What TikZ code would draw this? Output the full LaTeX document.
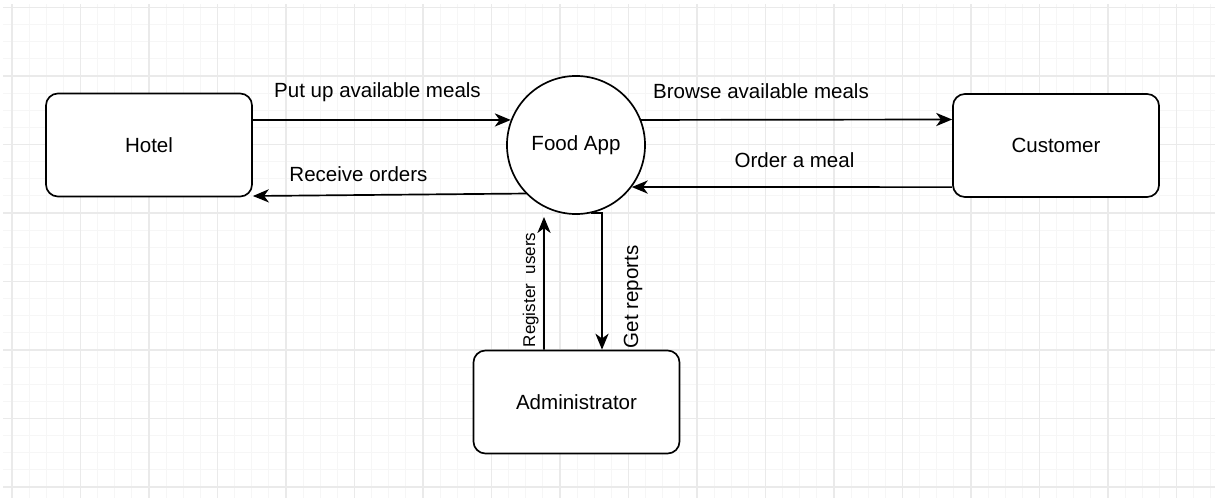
\documentclass[tikz,border=0pt]{standalone}
\usepackage{fontspec}
\setmainfont{Liberation Sans}
\usepackage{xcolor}
\usetikzlibrary{arrows.meta}
\definecolor{gridminor}{HTML}{F6F6F6}
\definecolor{gridmajor}{HTML}{EAEAEA}

\begin{document}
\begin{tikzpicture}[x=0.025cm, y=-0.025cm,
        ent/.style={draw, rounded corners=0.3cm, line width=1.2pt, minimum width=5.15cm, minimum height=2.575cm, font=\fontsize{14.6}{17}\selectfont},
        proc/.style={draw, circle, line width=1.2pt, minimum size=3.45cm, inner sep=0pt, fill=white, font=\fontsize{14.6}{17}\selectfont},
        flow/.style={-{Stealth[length=0.4cm, width=0.33cm, inset=0.12cm]}, line width=1.2pt},
        lbl/.style={font=\fontsize{14.6}{17}\selectfont, inner sep=0pt, anchor=base},
        smalllbl/.style={font=\fontsize{12.1}{14}\selectfont, inner sep=0pt, anchor=base}]
                \useasboundingbox (0,0) rectangle (1215,498);
                \begin{scope}
                    \clip (3,4) rectangle (1215,498);
                    \foreach \i in {0,...,70} \draw[gridminor, line width=0.7pt] ({12+17.125*\i},4) -- ({12+17.125*\i},498);
                    \foreach \j in {0,...,28} \draw[gridminor, line width=0.7pt] (3,{7.5+17.125*\j}) -- (1215,{7.5+17.125*\j});
                    \foreach \i in {0,...,17} \draw[gridmajor, line width=1pt] ({12+68.5*\i},4) -- ({12+68.5*\i},498);
                    \foreach \j in {0,...,7} \draw[gridmajor, line width=1pt] (3,{7.5+68.5*\j}) -- (1215,{7.5+68.5*\j});
                \end{scope}
                \node[ent, fill=white] (hotel) at (149,145) {Hotel};
                \node[ent, fill=white] (customer) at (1056,145.5) {Customer};
                \node[ent, fill=white] (admin) at (576.5,402) {Administrator};
                \node[proc] (app) at (576,145) {Food App};
                \coordinate (regtip) at (544,217);
                \draw[flow] ([yshift=0.625cm]hotel.east) -- (app.159);
                \draw[flow] (app.224) -- ([yshift=-1.275cm]hotel.east);
                \draw[flow] (app.21) -- ([yshift=0.65cm]customer.west);
                \draw[flow] ([yshift=-1.04cm]customer.west) -- (app.-37.5);
                \draw[flow] ([xshift=-0.8125cm]admin.north) -- (regtip);
                \draw[flow] (app.-78.3) -| ([xshift=0.6375cm]admin.north);
                \node[lbl] (putlbl) at (377.5,98) {Put up available meals};
                \node[lbl] (recvlbl) at (358.5,182) {Receive orders};
                \node[lbl] (browselbl) at (761,99) {Browse available meals};
                \node[lbl] (orderlbl) at (794.5,168) {Order a meal};
                \node[smalllbl, rotate=90] (reglbl) at (535,290) {Register\ \ users};
                \node[lbl, rotate=90] (reportlbl) at (638,297) {Get reports};
            \end{tikzpicture}
\end{document}
